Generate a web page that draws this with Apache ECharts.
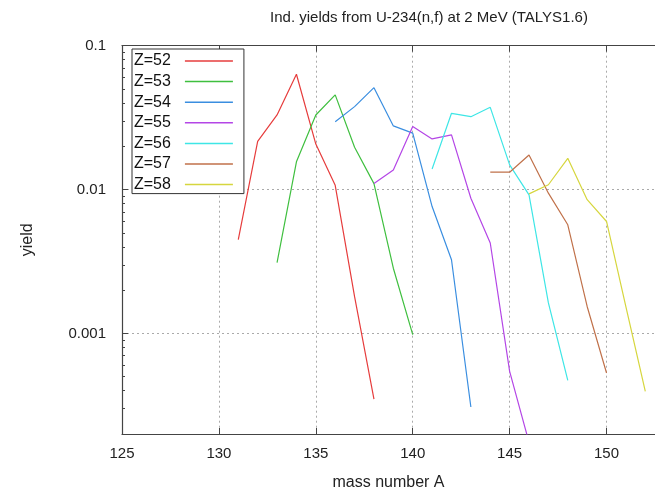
<!DOCTYPE html>
<html>
<head>
<meta charset="utf-8">
<script src="https://cdn.jsdelivr.net/npm/echarts@6/dist/echarts.min.js"></script>
<style>html,body{margin:0;padding:0;background:#fff;}#c{width:655px;height:496px;}</style>
</head>
<body>
<div id="c"></div>
<script>
// ---- data ----
const seriesNames = ['Z=52','Z=53','Z=54','Z=55','Z=56','Z=57','Z=58'];
const z52A = [131,132,133,134,135,136,137,138];
const z52Y = [0.00448,0.0216,0.033,0.0633,0.0207,0.0107,0.0018,0.00035];
const z53A = [133,134,135,136,137,138,139,140];
const z53Y = [0.00311,0.0156,0.033,0.0455,0.0197,0.011,0.00284,0.00098];
const z54A = [136,137,138,139,140,141,142,143];
const z54Y = [0.0296,0.0377,0.0511,0.0277,0.0247,0.00762,0.00325,0.000308];
const z55A = [138,139,140,141,142,143,144,145,146];
const z55Y = [0.011,0.0137,0.0274,0.0225,0.024,0.0087,0.00425,0.000545,0.000175];
const z56A = [141,142,143,144,145,146,147,148];
const z56Y = [0.0139,0.0339,0.0321,0.0373,0.01486,0.00918,0.00163,0.000472];
const z57A = [144,145,146,147,148,149,150];
const z57Y = [0.0132,0.0132,0.0174,0.00944,0.00569,0.00154,0.000531];
const z58A = [146,147,148,149,150,151,152];
const z58Y = [0.00933,0.0108,0.0165,0.0085,0.006,0.00153,0.000396];
const xTickLabels = [125,130,135,140,145,150];
const yTickLabels = [0.001,0.01,0.1];
const yMinorTicks = [0.0003,0.0004,0.0005,0.0006,0.0007,0.0008,0.0009,
                     0.002,0.003,0.004,0.005,0.006,0.007,0.008,0.009,
                     0.02,0.03,0.04,0.05,0.06,0.07,0.08,0.09];
const colors = ['#e63c3c','#3fbf3f','#3a8ee0','#b446e6','#3ee6e6','#c0714a','#d6d63e'];

const allA = [z52A,z53A,z54A,z55A,z56A,z57A,z58A];
const allY = [z52Y,z53Y,z54Y,z55Y,z56Y,z57Y,z58Y];

const FONT = '"Liberation Sans", Arial, sans-serif';
const chart = echarts.init(document.getElementById('c'), null, {renderer:'canvas'});

const series = seriesNames.map((n,i)=>({
  name:n, type:'line', xAxisIndex:0, yAxisIndex:0,
  data: allA[i].map((a,k)=>[a, allY[i][k]]),
  showSymbol:false, symbol:'none', clip:true, animation:false,
  lineStyle:{color:colors[i], width:1.2},
  itemStyle:{color:colors[i]}
}));

const option = {
  animation:false,
  backgroundColor:'#fff',
  title:{
    text:'Ind. yields from U-234(n,f) at 2 MeV (TALYS1.6)',
    left:424, top:5, textAlign:'center',
    textStyle:{fontFamily:FONT, fontSize:15, fontWeight:'normal', color:'#222'}
  },
  color:colors,
  legend:{
    orient:'vertical', left:132, top:49, align:'right',
    padding:[4,11,1,2], itemGap:4.6,
    itemWidth:48, itemHeight:1.5, icon:'rect',
    borderColor:'#333', borderWidth:1, backgroundColor:'#fff',
    textStyle:{fontFamily:FONT, fontSize:16, color:'#111', lineHeight:16, padding:[0,9,0,0]},
    data:seriesNames
  },
  grid:{left:122, right:0, top:45.7, bottom:61.7, containLabel:false},
  xAxis:[{
    type:'value', min:125, max:152.5, interval:5, position:'bottom',
    name:'mass number A', nameLocation:'middle', nameGap:41,
    nameTextStyle:{fontFamily:FONT, fontSize:16, color:'#222'},
    axisLine:{show:true, onZero:false, lineStyle:{color:'#444', width:1.2}},
    axisTick:{show:true, inside:true, length:6, customValues:xTickLabels, lineStyle:{color:'#444'}},
    axisLabel:{show:true, margin:12, customValues:xTickLabels, fontFamily:FONT, fontSize:15, color:'#222'},
    splitLine:{show:true, lineStyle:{color:'#aaa', type:[2,3], width:1}}
  },{
    type:'value', min:125, max:152.5, interval:5, position:'top',
    axisLine:{show:true, onZero:false, lineStyle:{color:'#444', width:1.2}},
    axisTick:{show:true, inside:true, length:6, customValues:xTickLabels, lineStyle:{color:'#444'}},
    axisLabel:{show:false}, splitLine:{show:false}
  }],
  yAxis:[{
    type:'log', logBase:10, min:0.0002, max:0.1, position:'left',
    name:'yield', nameLocation:'middle', nameGap:86, nameRotate:90,
    nameTextStyle:{fontFamily:FONT, fontSize:16, color:'#222'},
    axisLine:{show:true, onZero:false, lineStyle:{color:'#444', width:1.2}},
    axisTick:{show:true, inside:true, length:6, customValues:yTickLabels, lineStyle:{color:'#444'}},
    axisLabel:{show:true, margin:16, customValues:yTickLabels, fontFamily:FONT, fontSize:15, color:'#222',
      formatter:function(v){ return String(v); }},
    splitLine:{show:true, lineStyle:{color:'#aaa', type:[2,3], width:1}}
  },{
    type:'log', logBase:10, min:0.0002, max:0.1, position:'left',
    axisLine:{show:false},
    axisTick:{show:true, inside:true, length:3, customValues:yMinorTicks, lineStyle:{color:'#444'}},
    axisLabel:{show:false}, splitLine:{show:false}
  }],
  series:series
};
chart.setOption(option);
</script>
</body>
</html>
